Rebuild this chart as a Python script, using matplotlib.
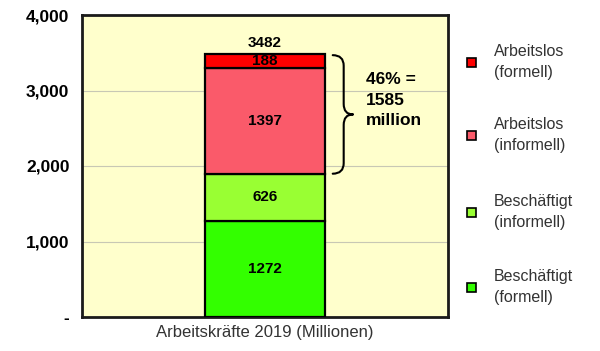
import matplotlib
matplotlib.use('Agg')
import matplotlib.pyplot as plt
from matplotlib.path import Path
from matplotlib.patches import PathPatch, Rectangle
from matplotlib.ticker import FuncFormatter

plt.rcParams['font.family'] = ['Liberation Sans', 'DejaVu Sans']

# данные
category = 'Arbeitskräfte 2019 (Millionen)'
labels = ['Beschäftigt\n(formell)', 'Beschäftigt\n(informell)',
          'Arbeitslos\n(informell)', 'Arbeitslos\n(formell)']
values = [1272, 626, 1397, 188]
total_label = '3482'
brace_text = '46% =\n1585\nmillion'
colors = ['#33FF00', '#99FF33', '#FA5A6A', '#FF0000']
yticks = [0, 1000, 2000, 3000, 4000]

fig = plt.figure(figsize=(6.0, 3.51), dpi=100)
ax = fig.add_axes([82 / 600, 1 - 317 / 351, 366 / 600, 302 / 351])
ax.set_facecolor('#FFFFCC')

bottom = 0
for v, c in zip(values, colors):
    ax.bar(0, v, width=0.328, bottom=bottom, color=c, edgecolor='black',
           linewidth=1.6, zorder=3)
    ax.text(0, bottom + v / 2, str(v), ha='center', va='center',
            fontsize=11, fontweight='bold', zorder=4)
    bottom += v
ax.text(0, bottom + 55, total_label, ha='center', va='bottom',
        fontsize=11, fontweight='bold')

# фигурная скобка над неформальной частью
y0, y1 = values[0] + values[1], bottom - 15
ym = (y0 + y1) / 2
xa, xb, xc = 0.185, 0.215, 0.24
r = 140
verts = [(xa, y1), (xb, y1), (xb, y1 - r),
         (xb, ym + r), (xb, ym), (xc, ym),
         (xc, ym), (xb, ym), (xb, ym - r),
         (xb, y0 + r), (xb, y0), (xa, y0)]
codes = [Path.MOVETO, Path.CURVE3, Path.CURVE3,
         Path.LINETO, Path.CURVE3, Path.CURVE3,
         Path.MOVETO, Path.CURVE3, Path.CURVE3,
         Path.LINETO, Path.CURVE3, Path.CURVE3]
ax.add_patch(PathPatch(Path(verts, codes), fill=False, lw=1.5,
                       capstyle='round', joinstyle='round', zorder=4))
ax.text(0.275, 2870, brace_text, ha='left', va='center', fontsize=12.5,
        fontweight='bold', linespacing=1.45)

ax.set_xlim(-0.5, 0.5)
ax.set_ylim(0, 4000)
ax.set_yticks(yticks)
ax.yaxis.set_major_formatter(FuncFormatter(lambda v, p: '-' if v == 0 else f'{int(v):,}'))
for t in ax.get_yticklabels():
    t.set_fontweight('bold')
    t.set_fontsize(12.5)
ax.set_xticks([0])
ax.set_xticklabels([category], fontsize=12, color='#333333')
ax.tick_params(length=0, pad=9)
ax.tick_params(axis='x', pad=6)
ax.grid(axis='y', color='#C8C8B4', lw=0.8, zorder=0)
for s in ax.spines.values():
    s.set_linewidth(2)
    s.set_color('#1A1A1A')

# легенда
leg_y = [0.182, 0.396, 0.615, 0.823]
for lab, c, ly in zip(labels, colors, leg_y):
    fig.patches.append(Rectangle((467 / 600, ly - 0.013), 9 / 600, 9 / 351,
                                 transform=fig.transFigure, facecolor=c,
                                 edgecolor='black', lw=1.2))
    fig.text(494 / 600, ly, lab, ha='left', va='center', fontsize=11.5,
             color='#333333', linespacing=1.55)

fig.savefig('out.png', dpi=100)
